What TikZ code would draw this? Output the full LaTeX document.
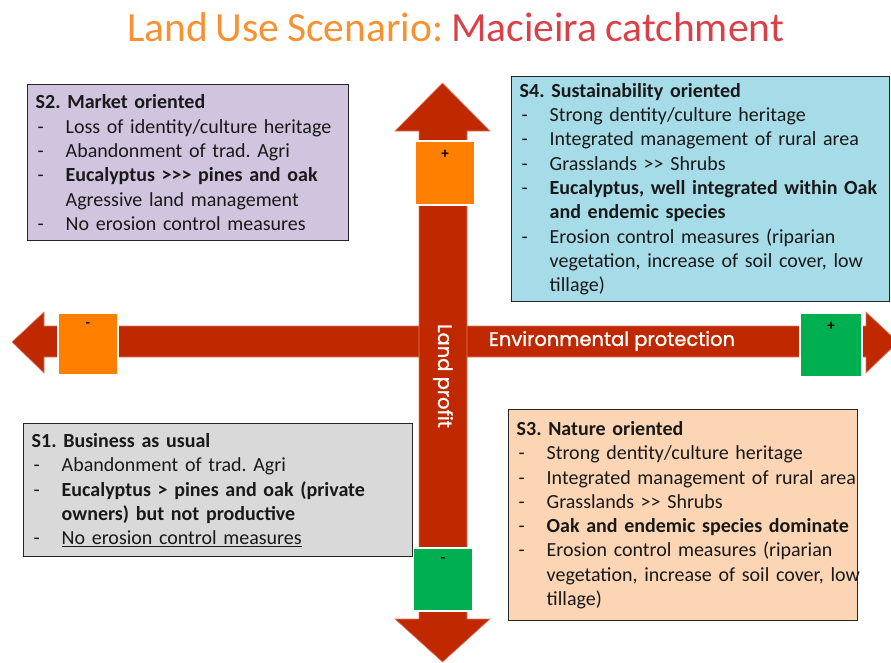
\documentclass[tikz,border=0pt]{standalone}
\usepackage{fontspec}
\setmainfont{Carlito}[WordSpace=0.85]
\newfontfamily\gothicfont{Poppins}[FakeBold=1.2]
\usepackage{tikz}
\usetikzlibrary{positioning}
\usepackage{xcolor}
\definecolor{luarrow}{RGB}{192,40,0}
\definecolor{luorange}{RGB}{255,128,0}
\definecolor{lugreen}{RGB}{0,176,80}
\definecolor{lutitleorange}{RGB}{248,145,50}
\definecolor{lutitlered}{RGB}{217,65,73}
\definecolor{lulavender}{RGB}{209,196,222}
\definecolor{lulightblue}{RGB}{166,220,232}
\definecolor{lugray}{RGB}{217,217,217}
\definecolor{lupeach}{RGB}{252,213,180}
\tikzstyle{axisarrow} = [fill=luarrow, draw=luarrow!60, line width=0.6pt]
\tikzstyle{signbox} = [rectangle, draw=white, line width=1.2pt, inner sep=0pt]
\tikzstyle{sign} = [anchor=north, inner sep=2pt, yshift=-8pt, font=\fontsize{15}{15}\selectfont\bfseries]
\tikzstyle{scenario} = [rectangle, draw=black!85, line width=1.4pt, anchor=north west, inner xsep=8pt, inner ysep=0pt, align=left, font=\fontsize{20}{24.3}\selectfont, text=black!90]
\tikzstyle{axislabel} = [text=white, font=\gothicfont\fontsize{19.5}{19.5}\selectfont]
\newcommand{\itm}[1]{\\\makebox[30pt][l]{\hspace{2pt}-}\mbox{#1}}
\newcommand{\cnt}[1]{\\\hspace*{30pt}\mbox{#1}}
\frenchspacing

\begin{document}
\begin{tikzpicture}[x=1pt, y=-1pt]
\useasboundingbox (0,0) rectangle (891,662);
\clip (0,0) rectangle (891,662);

% Title
\node[anchor=base, font=\fontsize{41.5}{41.5}\selectfont] (title) at (455.5,41)
  {\textcolor{lutitleorange}{Land Use Scenario:} \textcolor{lutitlered}{Macieira catchment}};

% Environmental protection axis
\filldraw[axisarrow] (12,342) -- (44,312) -- (44,326) -- (866,326) -- (866,312) -- (898,342)
  -- (866,373) -- (866,357) -- (44,357) -- (44,373) -- cycle;

% Land profit axis
\filldraw[axisarrow] (442.5,83) -- (490,131) -- (467,131) -- (467,619) -- (490,619) -- (442.5,662)
  -- (395,619) -- (419,619) -- (419,131) -- (395,131) -- cycle;

\node[axislabel] (envlabel) at (612,341) {Environmental protection};
\node[axislabel, rotate=-90] (profitlabel) at (443,376) {Land profit};

% Sign boxes
\node[signbox, fill=luorange, minimum width=60pt, minimum height=64pt,
  label={[sign]north:+}] (profitplus) at (445,173) {};
\node[signbox, fill=lugreen, minimum width=60pt, minimum height=63pt,
  label={[sign]north:-}] (profitminus) at (443,579.5) {};
\node[signbox, fill=luorange, minimum width=60pt, minimum height=62pt,
  label={[sign]north:-}] (envminus) at (88,344) {};
\node[signbox, fill=lugreen, minimum width=62pt, minimum height=64pt,
  label={[sign]north:+}] (envplus) at (831,345) {};

% S2 box
\node[scenario, fill=lulavender, text width=305pt, minimum height=156pt] (s2) at (27,84) {
\textbf{S2. Market oriented}
\itm{Loss of identity/culture heritage}
\itm{Abandonment of trad. Agri}
\itm{\textbf{Eucalyptus >{}>{}> pines and oak}}
\cnt{Agressive land management}
\itm{No erosion control measures}
};

% S4 box
\node[scenario, fill=lulightblue, text width=362pt, minimum height=225pt] (s4) at (511,76) {
\textbf{S4. Sustainability oriented}
\itm{Strong dentity/culture heritage}
\itm{Integrated management of rural area}
\itm{Grasslands >{}> Shrubs}
\itm{\textbf{Eucalyptus, well integrated within Oak}}
\cnt{\textbf{and endemic species}}
\itm{Erosion control measures (riparian}
\cnt{vegetation, increase of soil cover, low}
\cnt{tillage)}
};

% S1 box
\node[scenario, fill=lugray, text width=373pt, minimum height=133pt] (s1) at (23,423) {
\textbf{S1. Business as usual}
\itm{Abandonment of trad. Agri}
\itm{\textbf{Eucalyptus > pines and oak (private}}
\cnt{\textbf{owners) but not productive}}
\itm{\underline{No erosion control measures}}
};

% S3 box
\node[scenario, fill=lupeach, text width=333pt, minimum height=211pt] (s3) at (508,409) {
\textbf{S3. Nature oriented}
\itm{Strong dentity/culture heritage}
\itm{Integrated management of rural area}
\itm{Grasslands >{}> Shrubs}
\itm{\textbf{Oak and endemic species dominate}}
\itm{Erosion control measures (riparian}
\cnt{vegetation, increase of soil cover, low}
\cnt{tillage)}
};
\end{tikzpicture}
\end{document}
